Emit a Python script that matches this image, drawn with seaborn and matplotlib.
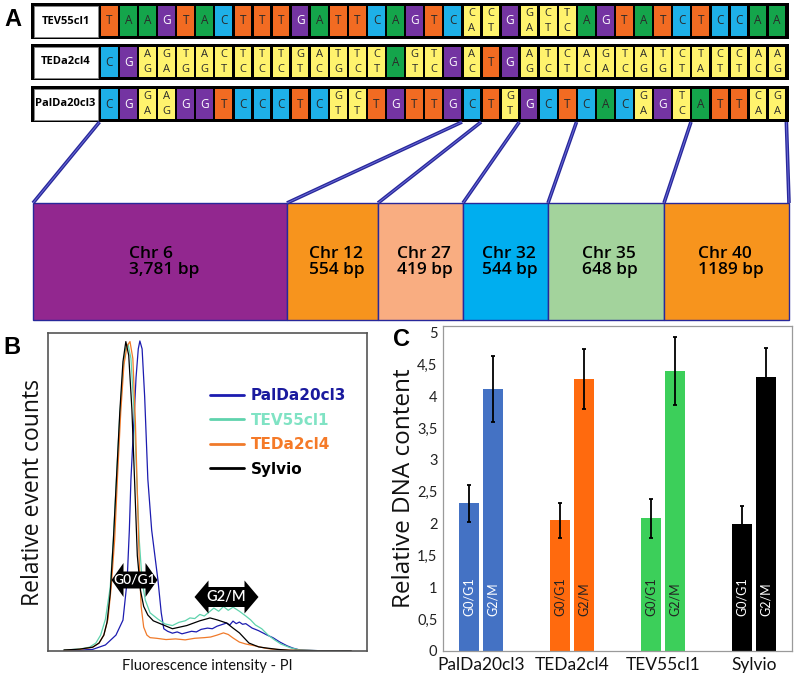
import numpy as np
import pandas as pd
import matplotlib
matplotlib.use("Agg")
import matplotlib.pyplot as plt
import seaborn as sns
from matplotlib.patches import Rectangle, Polygon

# ---------------- data ----------------
# panel A: SNP sequences per strain (two letters = heterozygous position)
row_labels = ["TEV55cl1", "TEDa2cl4", "PalDa20cl3"]
seq_tev = ["T", "A", "A", "G", "T", "A", "C", "T", "T", "T", "G", "A", "T", "T", "C", "A", "G", "T",
           "C", "CA", "CT", "G", "GA", "CT", "TC", "A", "G", "T", "A", "T", "C", "T", "C", "C", "A", "A"]
seq_teda = ["C", "G", "AG", "GA", "TG", "AG", "CT", "TC", "TC", "TC", "GT", "AC", "TG", "TC", "CT", "A", "GT", "TC",
            "G", "AC", "T", "G", "AG", "TC", "CT", "AC", "GA", "TC", "AG", "TG", "CT", "TA", "CT", "CT", "AC", "AG"]
seq_pal = ["C", "G", "GA", "AG", "G", "G", "T", "C", "C", "C", "T", "C", "GT", "CT", "T", "G", "T", "T",
           "G", "C", "T", "GT", "G", "C", "T", "C", "A", "C", "GA", "G", "TC", "A", "T", "T", "CA", "GA"]
chr_names = ["Chr 6", "Chr 12", "Chr 27", "Chr 32", "Chr 35", "Chr 40"]
chr_sizes = ["3,781 bp", "554 bp", "419 bp", "544 bp", "648 bp", "1189 bp"]
chr_first_snp = [0, 19, 20, 22, 25, 31, 36]   # SNP index where each chromosome block starts/ends

# panel B: flow cytometry histograms (fluorescence, relative counts)
pal_x = [5, 10, 14, 18, 21.3, 23.5, 24.8, 25.5, 26, 26.8, 27.6, 28.3, 28.8, 29.5, 30.3, 31.3, 32.5, 34.5,
         35.5, 36.3, 37.5, 39, 40.5, 42, 43.5, 45, 46.5, 48, 50, 51.5, 53, 54.5, 56, 57, 58, 59, 60, 61,
         62, 64, 66, 68.7, 70.5, 72.7, 75, 76.8, 79, 85, 95]
pal_y = [0.2, 0.3, 0.5, 1.9, 5, 9.7, 22, 38, 54, 70, 86, 95, 97.5, 95, 80, 54, 38, 22,
         12, 7, 6.2, 5.6, 6, 5.4, 5.8, 6.2, 6.0, 6.8, 7.2, 7.0, 7.8, 8.3, 8.8, 8.2, 9.4, 8.6, 9.1, 8.4,
         8.6, 7.2, 6.4, 5.0, 4.2, 2.8, 1.6, 0.9, 0.3, 0.1, 0.1]
tev_x = [5, 10, 13, 15, 16.5, 18, 19.5, 20.5, 21.5, 22.5, 23.5, 24.3, 25.1, 26, 27, 27.8, 28.6, 29.5,
         30.5, 32, 34.5, 36.7, 39, 41, 43, 44.5, 46, 47.6, 49, 50.8, 52, 53.5, 55, 56.5, 58, 60, 62,
         63.5, 65, 67, 69, 71, 73, 76, 79, 85, 95]
tev_y = [0.3, 0.6, 1.2, 2.5, 5, 10, 20, 35, 55, 74, 88, 95, 96.5, 92, 75, 55, 35, 22,
         16, 12, 10, 8.5, 8, 9, 9.5, 10.4, 10.2, 11.5, 11, 12.5, 13.5, 12.5, 14, 12.8, 13.8, 12.5, 11,
         9.8, 8.2, 7, 5, 3.5, 2.2, 1, 0.3, 0.1, 0.1]
teda_x = [5, 10, 14, 16, 17.5, 18.8, 19.8, 20.9, 21.8, 22.8, 23.8, 24.8, 25.7, 26.6, 27.4, 28, 28.6, 29.2,
          30, 31, 32, 34, 37, 40, 43, 46, 49, 51, 53, 55, 56.5, 58, 60, 62, 65, 68, 70, 75, 85, 95]
teda_y = [0.2, 0.5, 1.2, 2.5, 5, 10, 20, 35, 55, 75, 90, 96, 97.3, 92, 72, 50, 28, 14,
          7.5, 5, 4.2, 4, 3.6, 3.8, 3.5, 4, 4.2, 4.4, 5, 5.7, 5.2, 4.1, 2.8, 2.2, 1.6, 0.9, 0.6, 0.3, 0.1, 0.1]
syl_x = [5, 10, 14, 16, 17.5, 18.5, 19.5, 20.5, 21.5, 22.5, 23.5, 24.4, 25.3, 26.3, 27.2, 28, 29, 30,
         31.3, 33, 35.4, 39, 43.5, 47.6, 50.8, 53, 56, 58, 60, 63, 66, 68, 72, 76, 85, 95]
syl_y = [0.3, 0.6, 1.2, 2.5, 5, 9, 18, 35, 55, 75, 91, 97.3, 93, 76, 52, 30, 19, 14,
         11.3, 9.5, 8.5, 7, 8, 9.5, 10.4, 9.8, 8.8, 7.2, 5.7, 2.5, 1.3, 1, 0.5, 0.2, 0.1, 0.1]

# panel C: relative DNA content
groups = ["PalDa20cl3", "TEDa2cl4", "TEV55cl1", "Sylvio"]
phases = ["G0/G1", "G2/M"]
g0_mean = [2.32, 2.05, 2.08, 1.99]
g0_err = [0.29, 0.28, 0.31, 0.29]
g2_mean = [4.11, 4.27, 4.39, 4.30]
g2_err = [0.52, 0.47, 0.53, 0.46]

# ---------------- style ----------------
sns.set_theme(style="white")
plt.rcParams["font.family"] = ["Open Sans", "DejaVu Sans"]

base_colors = {"T": "#f26b22", "A": "#14a54b", "G": "#7434a2", "C": "#1eb0e8"}
base_text = {"T": "#2a2a2a", "A": "#2a2a2a", "G": "white", "C": "#2a2a2a"}
het_color = "#fff36d"
chr_colors = ["#92278f", "#f7941d", "#f9ad81", "#00aeef", "#a3d39c", "#f7941d"]
navy = "#28289a"

fig = plt.figure(figsize=(8, 6.8), dpi=100)

# ---------------- panel A ----------------
ax_a = fig.add_axes([0, 0, 1, 1])
ax_a.set_xlim(0, 800)
ax_a.set_ylim(680, 0)
ax_a.axis("off")

row_tops = [3, 44, 86]
row_h = 36
cell_x0 = 100
pitch = 19.08
for label, seq, top in zip(row_labels, [seq_tev, seq_teda, seq_pal], row_tops):
    ax_a.add_patch(Rectangle((31, top), 758, row_h, fc="black", ec="none"))
    ax_a.add_patch(Rectangle((33.5, top + 2.5), 64, row_h - 5, fc="white", ec="#888", lw=0.6))
    ax_a.text(65.5, top + row_h / 2, label, ha="center", va="center", fontsize=8,
              fontweight="bold", color="black")
    for i, b in enumerate(seq):
        x = cell_x0 + i * pitch + 1
        if len(b) == 1:
            ax_a.add_patch(Rectangle((x, top + 3), pitch - 2.4, row_h - 6, fc=base_colors[b], ec="none"))
            ax_a.text(x + (pitch - 2.4) / 2, top + row_h / 2, b, ha="center", va="center",
                      fontsize=8.5, color=base_text[b])
        else:
            ax_a.add_patch(Rectangle((x, top + 3), pitch - 2.4, row_h - 6, fc=het_color, ec="none"))
            ax_a.text(x + (pitch - 2.4) / 2, top + row_h * 0.3, b[0], ha="center", va="center",
                      fontsize=8, color="#2a2a2a")
            ax_a.text(x + (pitch - 2.4) / 2, top + row_h * 0.72, b[1], ha="center", va="center",
                      fontsize=8, color="#2a2a2a")

# chromosome blocks
block_edges = [33, 287, 378, 463, 548, 664, 789]
blk_top, blk_bot = 203, 320
for j, (name, size) in enumerate(zip(chr_names, chr_sizes)):
    x0, x1 = block_edges[j], block_edges[j + 1]
    ax_a.add_patch(Rectangle((x0, blk_top), x1 - x0, blk_bot - blk_top, fc=chr_colors[j],
                             ec=navy, lw=1.0))
    ax_a.text((x0 + x1) / 2 + 4, (blk_top + blk_bot) / 2, f"{name}\n{size}", ha="center",
              va="center", multialignment="left", fontsize=12.5, fontweight="semibold",
              color="black", linespacing=1.0)

# linking lines from SNP boundaries to blocks
seq_bottom = row_tops[2] + row_h
for k, e in zip(chr_first_snp, block_edges):
    xs = cell_x0 + k * pitch - 0.5
    ax_a.plot([xs, e], [seq_bottom, blk_top], color=navy, lw=2.6, solid_capstyle="butt")
    ax_a.plot([xs, e], [seq_bottom, blk_top], color="#6a6ad8", lw=0.7, solid_capstyle="butt")

# panel letters
for letter, (px, py) in zip("ABC", [(13, 19), (12, 348), (401, 339)]):
    ax_a.text(px, py, letter, ha="center", va="center", fontsize=17, fontweight="bold",
              family="Liberation Sans", color="black")

# ---------------- panel B ----------------
ax_b = fig.add_axes([48 / 800, 29 / 680, 319 / 800, 318 / 680])
strains_b = ["PalDa20cl3", "TEV55cl1", "TEDa2cl4", "Sylvio"]
line_colors = ["#1c1cb0", "#5fd3ad", "#f07a2a", "black"]
text_colors = ["#1a1a9e", "#80e3c4", "#f57a28", "black"]
flow = pd.concat([
    pd.DataFrame({"x": xs, "y": ys, "strain": s})
    for s, xs, ys in zip(strains_b, [pal_x, tev_x, teda_x, syl_x], [pal_y, tev_y, teda_y, syl_y])
])
sns.lineplot(data=flow, x="x", y="y", hue="strain", hue_order=strains_b,
             palette=line_colors, estimator=None, lw=0.9, legend=False, ax=ax_b)
ax_b.set_xlim(0, 100)
ax_b.set_ylim(0, 100)
ax_b.set_xticks([])
ax_b.set_yticks([])
for sp in ax_b.spines.values():
    sp.set_color("#555")
    sp.set_linewidth(1.2)
ax_b.set_ylabel("Relative event counts", fontsize=16.5, labelpad=2, color="#111")
ax_b.set_xlabel("Fluorescence intensity - PI", fontsize=10.5, labelpad=6, family="Lato", color="#111")
ax_b.legend(ax_b.get_lines(), strains_b, loc="upper left", bbox_to_anchor=(0.508, 0.826),
            frameon=False, borderpad=0, borderaxespad=0, handlelength=2.2, handletextpad=0.45,
            labelspacing=0.62, labelcolor=text_colors,
            prop={"family": "DejaVu Sans", "weight": "bold", "size": 11})
for lh in ax_b.get_legend().get_lines():
    lh.set_linewidth(2)


def phase_arrow(cx, cy, width, body_h, head_h, head_len, text, size):
    """Black double-headed arrow label, sized in figure pixels."""
    hw, hb, hh = width / 2, body_h / 2, head_h / 2
    pts = [(cx - hw, cy), (cx - hw + head_len, cy - hh), (cx - hw + head_len, cy - hb),
           (cx + hw - head_len, cy - hb), (cx + hw - head_len, cy - hh), (cx + hw, cy),
           (cx + hw - head_len, cy + hh), (cx + hw - head_len, cy + hb),
           (cx - hw + head_len, cy + hb), (cx - hw + head_len, cy + hh)]
    ax_b.add_patch(Polygon(pts, closed=True, fc="black", ec="none",
                           transform=ax_a.transData, clip_on=False, zorder=5))
    ax_b.text(cx, cy, text, transform=ax_a.transData, ha="center", va="center",
              color="white", fontsize=size, family="Lato", fontweight="semibold", zorder=6)


phase_arrow(134.5, 580, 46, 17, 34, 12, "G0/G1", 10)
phase_arrow(226.5, 597, 64, 20, 33, 14, "G2/M", 10.5)

# ---------------- panel C ----------------
ax_c = fig.add_axes([443 / 800, 29 / 680, 349 / 800, 325 / 680])
dna = pd.DataFrame({
    "group": groups * 2,
    "phase": [phases[0]] * 4 + [phases[1]] * 4,
    "value": g0_mean + g2_mean,
})
sns.barplot(data=dna, x="group", y="value", hue="phase", hue_order=phases, order=groups,
            width=0.52, gap=0.13, errorbar=None, saturation=1, legend=False, ax=ax_c)
bar_colors = ["#4472c4", "#ff6a0e", "#3ccf5a", "black"]
bar_text = ["white", "#222", "#222", "white"]
for container, phase, errs in zip(ax_c.containers, phases, [g0_err, g2_err]):
    for bar, col, tcol, err in zip(container, bar_colors, bar_text, errs):
        bar.set_facecolor(col)
        bar.set_edgecolor("none")
        cx = bar.get_x() + bar.get_width() / 2
        h = bar.get_height()
        ax_c.errorbar(cx, h, yerr=err, color="black", lw=1.3, capsize=1.5, capthick=1.3)
        ax_c.text(cx, 0.55, phase, rotation=90, ha="center", va="bottom", color=tcol,
                  fontsize=9, family="Lato")
ax_c.set_ylim(0, 5.1)
yt = np.arange(0, 5.01, 0.5)
ax_c.set_yticks(yt)
ax_c.set_yticklabels([f"{v:g}".replace(".", ",") for v in yt], family="Lato", fontsize=10.5, color="#222")
ax_c.set_xticks(range(len(groups)))
ax_c.set_xticklabels(groups, family="Lato", fontsize=12.5, color="#111")
ax_c.tick_params(length=0, pad=4)
ax_c.set_xlabel("")
ax_c.set_ylabel("Relative DNA content", fontsize=17.5, labelpad=1, color="#111")
for sp in ax_c.spines.values():
    sp.set_color("#9a9a9a")
    sp.set_linewidth(0.9)

fig.savefig("out.png", dpi=100)
